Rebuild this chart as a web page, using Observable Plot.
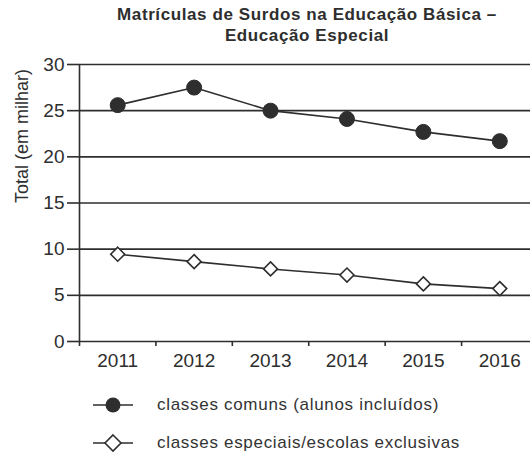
<!DOCTYPE html>
<html>
<head>
<meta charset="utf-8">
<script src="https://cdn.jsdelivr.net/npm/d3@7"></script>
<script src="https://cdn.jsdelivr.net/npm/@observablehq/plot@0.6"></script>
<style>
  body { margin: 0; background: #fff; font-family: "Liberation Sans", Arial, sans-serif; color: #333; width: 530px; overflow: hidden; }
  #title { margin-left: 84px; width: 446px; text-align: center; font-weight: bold; font-size: 17px; letter-spacing: 0.6px; line-height: 21px; padding-top: 4px; color: #2e2e2e; }
  #legend { padding-top: 5px; }
  .row { display: flex; align-items: center; height: 38px; }
  .row svg { margin-left: 93px; width: 40px; height: 20px; }
  .row span { margin-left: 24px; font-size: 17px; letter-spacing: 0.7px; color: #333; }
</style>
</head>
<body>
<div id="title">Matrículas de Surdos na Educação Básica –<br>Educação Especial</div>
<div id="chart"></div>
<div id="legend"></div>
<script>
const years = [2011, 2012, 2013, 2014, 2015, 2016];
const comuns = [25.6, 27.5, 25.0, 24.1, 22.7, 21.7];
const especiais = [9.45, 8.65, 7.86, 7.2, 6.24, 5.73];
const yTicks = [0, 5, 10, 15, 20, 25, 30];
const seriesNames = ["classes comuns (alunos incluídos)", "classes especiais/escolas exclusivas"];
const yLabel = "Total (em milhar)";

const ink = "#2e2e2e";
const dataComuns = years.map((y, i) => ({year: y, value: comuns[i]}));
const dataEspeciais = years.map((y, i) => ({year: y, value: especiais[i]}));
const boundaries = years.map(y => y - 0.5);

const chart = Plot.plot({
  width: 530,
  height: 335,
  marginTop: 18,
  marginBottom: 40,
  marginLeft: 79,
  marginRight: 0,
  style: {fontFamily: "'Liberation Sans', Arial, sans-serif", color: ink, background: "white"},
  x: {domain: [years[0] - 0.5, years[years.length - 1] + 0.5], range: [79, 537.5]},
  y: {domain: [0, 30]},
  marks: [
    Plot.ruleY(yTicks, {stroke: ink, strokeWidth: 1.6, x1: years[0] - 0.5, x2: years[years.length - 1] + 0.5}),
    Plot.ruleX([years[0] - 0.5], {stroke: ink, strokeWidth: 1.6}),
    Plot.axisY({ticks: yTicks, tickSize: 12, tickPadding: 3, fontSize: 19, label: null, stroke: ink, strokeWidth: 1.6}),
    Plot.axisX({ticks: boundaries, tickSize: 5, tickFormat: () => "", label: null, stroke: ink, strokeWidth: 1.6}),
    Plot.axisX({ticks: years, tickSize: 0, tickPadding: 12, tickFormat: d3.format("d"), fontSize: 19, label: null}),
    Plot.text([yLabel], {frameAnchor: "left", rotate: -90, dx: -57, fontSize: 18, fill: ink}),
    Plot.line(dataComuns, {x: "year", y: "value", stroke: ink, strokeWidth: 1.6}),
    Plot.line(dataEspeciais, {x: "year", y: "value", stroke: ink, strokeWidth: 1.6}),
    Plot.dot(dataComuns, {x: "year", y: "value", r: 7.5, fill: ink, stroke: ink, strokeWidth: 1}),
    Plot.dot(dataEspeciais, {x: "year", y: "value", r: 6.3, symbol: "diamond2", fill: "white", stroke: ink, strokeWidth: 1.6})
  ]
});
document.getElementById("chart").appendChild(chart);

const legend = document.getElementById("legend");
const icons = [
  `<svg viewBox="0 0 40 20"><line x1="0" y1="10" x2="40" y2="10" stroke="${ink}" stroke-width="1.6"/><circle cx="20" cy="10" r="7.5" fill="${ink}"/></svg>`,
  `<svg viewBox="0 0 40 20"><line x1="0" y1="10" x2="40" y2="10" stroke="${ink}" stroke-width="1.6"/><path d="M20 2 L28 10 L20 18 L12 10 Z" fill="white" stroke="${ink}" stroke-width="1.6"/></svg>`
];
seriesNames.forEach((name, i) => {
  const row = document.createElement("div");
  row.className = "row";
  row.innerHTML = icons[i] + `<span>${name}</span>`;
  legend.appendChild(row);
});
</script>
</body>
</html>
